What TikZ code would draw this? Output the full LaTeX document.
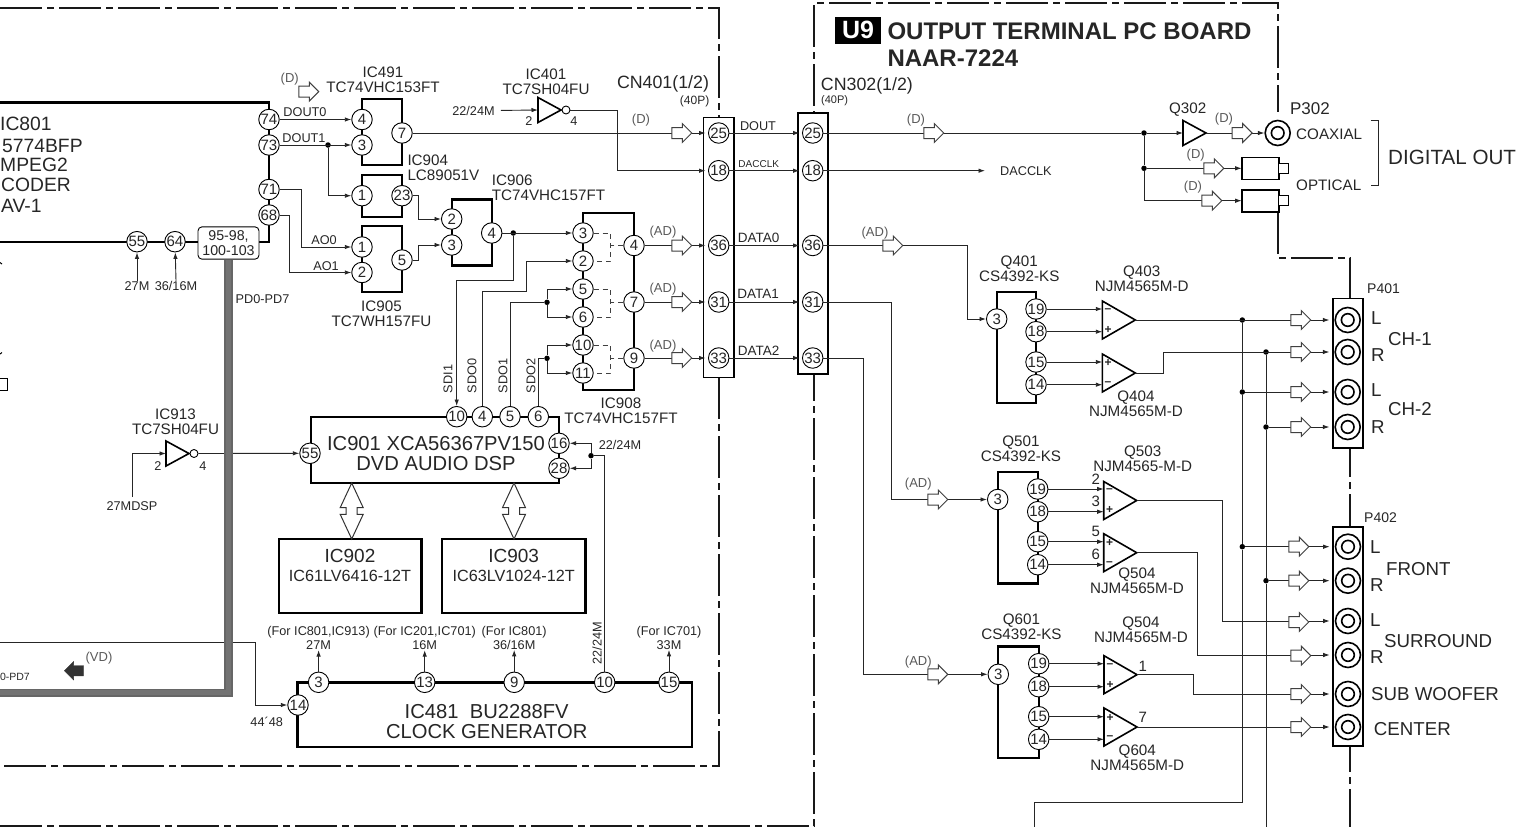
\documentclass[tikz,border=0pt]{standalone}
\usepackage{fontspec}
\setmainfont{Liberation Sans}
\usetikzlibrary{arrows.meta,shapes.arrows,shapes.geometric}

\begin{document}
\begin{tikzpicture}[x=1pt,y=1pt]
\tikzstyle{every node}+=[inner sep=0pt,text=black!85]
\tikzstyle{lbl}=[font=\fontsize{15.2}{15}\selectfont,align=center]
\tikzstyle{lblp}=[font=\fontsize{14}{15}\selectfont,anchor=west]
\tikzstyle{lbll}=[lbl,anchor=west,align=left]
\tikzstyle{lbls}=[font=\fontsize{12.7}{14}\selectfont,align=center]
\tikzstyle{lblb}=[font=\fontsize{18.7}{20}\selectfont,align=center]
\tikzstyle{lblk}=[font=\fontsize{19.3}{20}\selectfont,anchor=west]
\tikzstyle{lblc}=[font=\fontsize{20.2}{20}\selectfont,align=center]
\tikzstyle{lblm}=[font=\fontsize{16.2}{17}\selectfont]
\tikzstyle{lblg}=[font=\fontsize{13}{14}\selectfont,text=black!65]
\tikzstyle{lbld}=[font=\fontsize{13.5}{14}\selectfont]
\tikzstyle{lbln}=[font=\fontsize{15}{16}\selectfont]
\tikzstyle{lblsg}=[font=\fontsize{12}{12}\selectfont\bfseries]
\tikzstyle{pinc}=[circle,draw,fill=white,line width=0.9pt,minimum size=20.5pt,font=\fontsize{15}{15}\selectfont]
\tikzstyle{ic}=[draw,line width=2.3pt,fill=white,outer sep=0pt]
\tikzstyle{cn}=[draw,line width=1.6pt,fill=white,outer sep=0pt]
\tikzstyle{amp}=[isosceles triangle,isosceles triangle stretches,draw,line width=1.6pt,fill=white,minimum width=38pt,minimum height=33pt,anchor=apex,outer sep=0pt]
\tikzstyle{buf}=[amp,minimum width=25pt,minimum height=23pt]
\tikzstyle{bub}=[circle,draw,fill=white,line width=0.9pt,minimum size=8pt]
\tikzstyle{dot}=[circle,fill=black,minimum size=5.5pt]
\tikzstyle{flow}=[single arrow,draw=black!75,fill=white,line width=1pt,inner sep=5pt,minimum height=20pt,single arrow head extend=4pt]
\tikzstyle{bothflow}=[double arrow,rotate=90,draw=black!80,fill=white,line width=1pt,inner sep=5pt,minimum height=56pt,double arrow head extend=6pt,double arrow tip angle=50]
\tikzstyle{jack}=[circle,draw,fill=white,line width=1.6pt,minimum size=25pt,path picture={\draw [line width=1.6pt] (path picture bounding box.center) circle (6.3pt);}]
\tikzstyle{wire}=[line width=0.9pt,black!85]
\tikzstyle{sig}=[wire,-{Latex[length=6.5pt,width=4.5pt]}]
\tikzstyle{sigc}=[sig,shorten >=2.5pt]
\tikzstyle{sigj}=[sig,shorten >=5pt]
\tikzstyle{swline}=[line width=0.8pt,black!75,dash pattern=on 5pt off 4pt]
\tikzstyle{frameline}=[line width=2.2pt,black!90,dash pattern=on 42pt off 5pt on 7pt off 5pt]
\clip (0,0) rectangle (1527,-827);
\draw [frameline] (0,-8) -- (719,-8) -- (719,-117);
\draw [frameline] (719,-377) -- (719,-765.7) -- (0,-765.7);
\draw [frameline] (0,-825.7) -- (814,-825.7) -- (814,-3) -- (1278,-3) -- (1278,-112);
\draw [frameline] (1278,-212) -- (1278,-258) -- (1350,-258) -- (1350,-827);
\draw [line width=2.3pt] (0,-102.5) -- (269,-102.5) -- (269,-241.7) -- (0,-241.7);
\draw [line width=1pt] (0,-378.3) -- (7.3,-378.3) -- (7.3,-390.3) -- (0,-390.3);
\draw [line width=1pt] (0,-262.5) -- (2,-264);
\draw [line width=1pt] (0,-354) -- (2,-352.5);
\node (lb801a) [lblk] at (0,-124) {IC801};
\node (lb801b) [lblk] at (2,-145.7) {5774BFP};
\node (lb801c) [lblk] at (0,-165) {MPEG2};
\node (lb801d) [lblk] at (1,-185) {CODER};
\node (lb801e) [lblk] at (1,-206) {AV-1};
\node (ic491) [ic,minimum width=40pt,minimum height=66pt] at (382,-132) {};
\node (ic904) [ic,minimum width=40pt,minimum height=42pt] at (382,-195.7) {};
\node (ic905) [ic,minimum width=40pt,minimum height=66pt] at (382,-259) {};
\node (ic906) [ic,minimum width=40pt,minimum height=66pt] at (471.7,-232.5) {};
\node (ic908) [ic,minimum width=51pt,minimum height=177pt] at (608.7,-301.7) {};
\node (ic901) [ic,minimum width=248pt,minimum height=66.5pt] at (435,-450) {};
\node (ic902) [ic,minimum width=142.5pt,minimum height=73.5pt] at (350.2,-576) {};
\node (ic903) [ic,minimum width=143.5pt,minimum height=73.5pt] at (513.7,-576) {};
\node (ic481) [ic,minimum width=394.5pt,minimum height=64.7pt] at (494.7,-714.7) {};
\node (cn401) [cn,minimum width=30.4pt,minimum height=260pt] at (718.5,-247.3) {};
\node (cn302) [cn,minimum width=30pt,minimum height=261pt] at (812.7,-243.5) {};
\node (q401) [ic,minimum width=39.3pt,minimum height=111.3pt] at (1016.3,-347.3) {};
\node (q501) [ic,minimum width=40pt,minimum height=111.3pt] at (1017.7,-527.7) {};
\node (q601) [ic,minimum width=40.4pt,minimum height=111.7pt] at (1018.5,-702.2) {};
\node (p401) [cn,minimum width=30pt,minimum height=149.3pt] at (1348,-373.3) {};
\node (p402) [cn,minimum width=30pt,minimum height=219pt] at (1348,-636.5) {};
\node (p74) [pinc] at (269,-119.5) {74};
\node (p73) [pinc] at (269,-145) {73};
\node (p71) [pinc] at (269,-189.5) {71};
\node (p68) [pinc] at (269,-215) {68};
\node (p55) [pinc] at (137,-241.7) {55};
\node (p64) [pinc] at (175,-241.7) {64};
\node (pd) [draw,fill=white,line width=0.9pt,rounded corners=4pt,minimum width=61pt,minimum height=32.3pt,font=\fontsize{14.2}{15.5}\selectfont,align=center] at (228.5,-243) {95-98,\\100-103};
\node (p491a) [pinc] at (362,-119.5) {4};
\node (p491b) [pinc] at (362,-145) {3};
\node (p491c) [pinc] at (402,-133) {7};
\node (p904a) [pinc] at (362,-195.7) {1};
\node (p904b) [pinc] at (402,-195.7) {23};
\node (p905a) [pinc] at (362,-247) {1};
\node (p905b) [pinc] at (362,-272.5) {2};
\node (p905c) [pinc] at (402,-260) {5};
\node (p906a) [pinc] at (451.7,-219) {2};
\node (p906b) [pinc] at (451.7,-245) {3};
\node (p906c) [pinc] at (491.7,-233) {4};
\node (p908a) [pinc] at (583,-233) {3};
\node (p908b) [pinc] at (583,-261) {2};
\node (p908c) [pinc] at (583,-289) {5};
\node (p908d) [pinc] at (583,-317) {6};
\node (p908e) [pinc] at (583,-345) {10};
\node (p908f) [pinc] at (583,-373) {11};
\node (p908g) [pinc] at (634,-245.5) {4};
\node (p908h) [pinc] at (634,-302) {7};
\node (p908i) [pinc] at (634,-358) {9};
\node (p901a) [pinc] at (456.7,-416.7) {10};
\node (p901b) [pinc] at (482.3,-416.7) {4};
\node (p901c) [pinc] at (510,-416.7) {5};
\node (p901d) [pinc] at (538.3,-416.7) {6};
\node (p901e) [pinc] at (310,-453.3) {55};
\node (p901f) [pinc] at (559,-443.3) {16};
\node (p901g) [pinc] at (559,-468.3) {28};
\node (p481a) [pinc] at (298,-705) {14};
\node (p481b) [pinc] at (318.6,-682.3) {3};
\node (p481c) [pinc] at (424.7,-682.3) {13};
\node (p481d) [pinc] at (514.2,-682.3) {9};
\node (p481e) [pinc] at (604.7,-682.3) {10};
\node (p481f) [pinc] at (669,-682.3) {15};
\node (cn401a) [pinc] at (718.7,-133) {25};
\node (cn401b) [pinc] at (718.7,-170.7) {18};
\node (cn401c) [pinc] at (718.7,-245.5) {36};
\node (cn401d) [pinc] at (718.7,-302) {31};
\node (cn401e) [pinc] at (718.7,-358) {33};
\node (cn302a) [pinc] at (812.7,-133) {25};
\node (cn302b) [pinc] at (812.7,-170.7) {18};
\node (cn302c) [pinc] at (812.7,-245.5) {36};
\node (cn302d) [pinc] at (812.7,-302) {31};
\node (cn302e) [pinc] at (812.7,-358) {33};
\node (p401a) [pinc] at (996.7,-319) {3};
\node (p401b) [pinc] at (1036,-309) {19};
\node (p401c) [pinc] at (1036,-331.7) {18};
\node (p401d) [pinc] at (1036,-362) {15};
\node (p401e) [pinc] at (1036,-384.7) {14};
\node (p501a) [pinc] at (997.7,-499.5) {3};
\node (p501b) [pinc] at (1037.7,-489) {19};
\node (p501c) [pinc] at (1037.7,-511.7) {18};
\node (p501d) [pinc] at (1037.7,-541.7) {15};
\node (p501e) [pinc] at (1037.7,-564.7) {14};
\node (p601a) [pinc] at (998.3,-674.3) {3};
\node (p601b) [pinc] at (1038.7,-663.7) {19};
\node (p601c) [pinc] at (1038.7,-686.7) {18};
\node (p601d) [pinc] at (1038.7,-716.7) {15};
\node (p601e) [pinc] at (1038.7,-739.3) {14};
\node (amp403) [amp] at (1135.3,-320) {};
\node (amp404) [amp] at (1135.3,-373) {};
\node (amp503) [amp] at (1136.7,-500.5) {};
\node (amp504) [amp] at (1136.7,-552.7) {};
\node (amp505) [amp] at (1137,-674.7) {};
\node (amp604) [amp] at (1137,-727) {};
\node (buf302) [buf] at (1206,-133) {};
\node (inv401) [buf] at (561,-110) {};
\node (bub401) [bub] at (566,-110) {};
\node (inv913) [buf] at (189,-453.5) {};
\node (bub913) [bub] at (194,-453.5) {};
\node (jp302) [jack] at (1277.7,-133) {};
\node (opt1) [cn,minimum width=37pt,minimum height=22pt] at (1260.2,-168.3) {};
\node (nub1) [cn,line width=1.2pt,minimum width=10pt,minimum height=10pt,anchor=west] at (opt1.east) {};
\node (opt2) [cn,minimum width=37pt,minimum height=22pt] at (1260.2,-200.7) {};
\node (nub2) [cn,line width=1.2pt,minimum width=10pt,minimum height=10pt,anchor=west] at (opt2.east) {};
\node (j1) [jack] at (1347.7,-320) {};
\node (j2) [jack] at (1347.7,-352) {};
\node (j3) [jack] at (1347.7,-392) {};
\node (j4) [jack] at (1347.7,-427) {};
\node (k1) [jack] at (1348,-546.7) {};
\node (k2) [jack] at (1348,-580.7) {};
\node (k3) [jack] at (1348,-621) {};
\node (k4) [jack] at (1348,-655) {};
\node (k5) [jack] at (1348,-694) {};
\node (k6) [jack] at (1348,-727) {};
\node (d73) [dot] at (328,-145) {};
\node (d906) [dot] at (513.3,-233) {};
\node (d908a) [dot] at (547,-302.3) {};
\node (d908b) [dot] at (547,-358.3) {};
\node (d901) [dot] at (591,-455.7) {};
\node (dq302) [dot] at (1144,-133) {};
\node (dopt) [dot] at (1144,-168.3) {};
\node (dj1) [dot] at (1242.3,-320) {};
\node (dj2) [dot] at (1266,-352) {};
\node (dj3) [dot] at (1242.3,-392) {};
\node (dj4) [dot] at (1266,-427) {};
\node (dk1) [dot] at (1242.3,-546.7) {};
\node (dk2) [dot] at (1266,-580.7) {};
\node (lb491) [lbl] at (383,-79.5) {IC491\\TC74VHC153FT};
\node (lb401) [lbl] at (546,-81.5) {IC401\\TC7SH04FU};
\node (lb904) [lbll] at (407.3,-167.3) {IC904\\LC89051V};
\node (lb905) [lbl] at (381.5,-313.5) {IC905\\TC7WH157FU};
\node (lb906) [lbll] at (491.7,-188.2) {IC906\\TC74VHC157FT};
\node (lb908) [lbl] at (621,-411.2) {IC908\\TC74VHC157FT};
\node (lb913) [lbl] at (175.5,-421.5) {IC913\\TC7SH04FU};
\node (lb2224a) [lbls] at (473.5,-110.5) {22/24M};
\node (lb2224b) [lbls] at (620,-445) {22/24M};
\node (lb2224c) [lbls,rotate=90] at (597,-643) {22/24M};
\node (lb27) [lbls] at (137,-285.7) {27M};
\node (lb36) [lbls] at (176,-285.7) {36/16M};
\node (lbdsp) [lbls] at (132,-505.7) {27MDSP};
\node (lbpd) [lbls] at (262.5,-299) {PD0-PD7};
\node (lbpd2) [font=\fontsize{10.5}{12}\selectfont,anchor=east] at (30,-677) {0-PD7};
\node (lbvd) [lblg] at (99,-658) {(VD)};
\node (lb4448) [lbls] at (266.7,-721.7) {44´48};
\node (lbfor1) [lbls] at (318.6,-638.3) {(For IC801,IC913)\\27M};
\node (lbfor2) [lbls] at (424.7,-638.3) {(For IC201,IC701)\\16M};
\node (lbfor3) [lbls] at (514.2,-638) {(For IC801)\\36/16M};
\node (lbfor4) [lbls] at (669,-638) {(For IC701)\\33M};
\node (lbin2a) [lbls] at (529,-121) {2};
\node (lbin4a) [lbls] at (574,-121) {4};
\node (lbin2b) [lbls] at (158,-466) {2};
\node (lbin4b) [lbls] at (203,-466) {4};
\node (lbic901) [lblc] at (436,-454) {IC901 XCA56367PV150\\DVD AUDIO DSP};
\node (lbic902) [font=\fontsize{19}{20}\selectfont] at (350,-556) {IC902};
\node (lbic902a) [lblm] at (350,-576) {IC61LV6416-12T};
\node (lbic903) [font=\fontsize{19}{20}\selectfont] at (513.7,-556) {IC903};
\node (lbic903a) [lblm] at (513.7,-576) {IC63LV1024-12T};
\node (lbic481) [lblc] at (486.7,-722) {IC481\ \ BU2288FV\\CLOCK GENERATOR};
\node (lbdout0) [lbls] at (305,-112.5) {DOUT0};
\node (lbdout1) [lbls] at (304,-138) {DOUT1};
\node (lbao0) [lbls] at (324,-240) {AO0};
\node (lbao1) [lbls] at (326,-266) {AO1};
\node (lbsdi1) [lbls,rotate=90] at (448,-379) {SDI1};
\node (lbsdo0) [lbls,rotate=90] at (472,-376) {SDO0};
\node (lbsdo1) [lbls,rotate=90] at (503,-376) {SDO1};
\node (lbsdo2) [lbls,rotate=90] at (531,-376) {SDO2};
\node (lbcn401) [font=\fontsize{17.8}{19}\selectfont] at (663,-84) {CN401(1/2)};
\node (lbcn401p) [font=\fontsize{12}{14}\selectfont] at (694.6,-101) {(40P)};
\node (lbcn302) [font=\fontsize{17.8}{19}\selectfont,anchor=west] at (820.7,-85.7) {CN302(1/2)};
\node (lbcn302p) [font=\fontsize{11}{12}\selectfont,anchor=west] at (821,-100.7) {(40P)};
\node (lbdout) [lbls] at (758,-125.7) {DOUT};
\node (lbclk) [font=\fontsize{10}{12}\selectfont] at (758.7,-163.7) {DACCLK};
\node (lbdata0) [lbld] at (758.7,-237.7) {DATA0};
\node (lbdata1) [lbld] at (758,-293.7) {DATA1};
\node (lbdata2) [lbld] at (758.7,-350.3) {DATA2};
\node (lbu9) [fill=black,text=white,minimum width=46pt,minimum height=27pt,font=\fontsize{25}{26}\selectfont\bfseries] at (858,-30.2) {U9};
\node (lbtitle) [font=\fontsize{24}{27}\selectfont\bfseries,anchor=north west,align=left] at (887.3,-22.5) {OUTPUT TERMINAL PC BOARD\\NAAR-7224};
\node (lbq302) [lbl] at (1187.7,-110) {Q302};
\node (lbp302) [font=\fontsize{17}{18}\selectfont] at (1310,-109) {P302};
\node (lbcoax) [lbl,anchor=west] at (1296,-134) {COAXIAL};
\node (lbopt) [lbl,anchor=west] at (1296,-185) {OPTICAL};
\node (lbdigital) [font=\fontsize{20.6}{22}\selectfont,anchor=west] at (1388,-157.3) {DIGITAL OUT};
\node (lbdacclk) [lbls,anchor=west] at (1000,-171) {DACCLK};
\node (lbq401) [lbl] at (1019.3,-269.2) {Q401\\CS4392-KS};
\node (lbq403) [lbl] at (1141.7,-278.8) {Q403\\NJM4565M-D};
\node (lbq404) [lbl] at (1136,-403.7) {Q404\\NJM4565M-D};
\node (lbq501) [lbl] at (1021,-449.2) {Q501\\CS4392-KS};
\node (lbq503) [lbl] at (1142.7,-458.7) {Q503\\NJM4565-M-D};
\node (lbq504) [lbl] at (1137,-581) {Q504\\NJM4565M-D};
\node (lbq601) [lbl] at (1021.5,-626.7) {Q601\\CS4392-KS};
\node (lbq505) [lbl] at (1141,-630.2) {Q504\\NJM4565M-D};
\node (lbq604) [lbl] at (1137.3,-758.2) {Q604\\NJM4565M-D};
\node (lbn2) [lbln] at (1095.7,-479) {2};
\node (lbn3) [lbln] at (1095.7,-501.7) {3};
\node (lbn5) [lbln] at (1095.7,-531.7) {5};
\node (lbn6) [lbln] at (1095.7,-554.7) {6};
\node (lbn1) [lbln] at (1142.7,-666) {1};
\node (lbn7) [lbln] at (1142.7,-717) {7};
\node (s403a) [lblsg] at (1108,-310.5) {–};
\node (s403b) [lblsg] at (1108,-330) {+};
\node (s404a) [lblsg] at (1108,-363) {+};
\node (s404b) [lblsg] at (1108,-384) {–};
\node (s503a) [lblsg] at (1109.5,-491) {–};
\node (s503b) [lblsg] at (1109.5,-510) {+};
\node (s504a) [lblsg] at (1109.5,-543) {+};
\node (s504b) [lblsg] at (1109.5,-563.5) {–};
\node (s505a) [lblsg] at (1110,-665.5) {–};
\node (s505b) [lblsg] at (1110,-685) {+};
\node (s604a) [lblsg] at (1110,-717.5) {+};
\node (s604b) [lblsg] at (1110,-738) {–};
\node (lbp401) [lblp] at (1367,-289) {P401};
\node (lbp402) [lblp] at (1364,-517.7) {P402};
\node (lbl1) [lblb,anchor=west] at (1371,-318) {L};
\node (lbr1) [lblb,anchor=west] at (1371,-355) {R};
\node (lbl2) [lblb,anchor=west] at (1371,-390) {L};
\node (lbr2) [lblb,anchor=west] at (1371,-427) {R};
\node (lbch1) [lblb,anchor=west] at (1388,-339) {CH-1};
\node (lbch2) [lblb,anchor=west] at (1388,-409) {CH-2};
\node (lbl3) [lblb,anchor=west] at (1370,-547) {L};
\node (lbr3) [lblb,anchor=west] at (1370,-585) {R};
\node (lbl4) [lblb,anchor=west] at (1370,-620) {L};
\node (lbr4) [lblb,anchor=west] at (1370,-657) {R};
\node (lbfront) [lblb,anchor=west] at (1386,-569) {FRONT};
\node (lbsurr) [lblb,anchor=west] at (1384,-640.7) {SURROUND};
\node (lbsub) [lblb,anchor=west] at (1371,-694) {SUB WOOFER};
\node (lbcenter) [lblb,anchor=west] at (1373.7,-729) {CENTER};
\coordinate (dacend) at (985,-170.7);
\coordinate (wirein) at (0,-642.3);
\draw [sig] (p74) -- (p491a);
\draw [sig] (p73) -- (p491b);
\draw [sig] (d73) |- (p904a);
\draw [sig] (p71.east) -- ++(22,0) |- (p905a);
\draw [sig] (p68.east) -- ++(10,0) |- (p905b);
\draw [sig] (p904b.east) -- ++(6,0) |- (p906a);
\draw [sig] (p905c.east) -- ++(6,0) |- (p906b);
\draw [sig] (p906c) -- (p908a);
\draw [sig] (d906) -- ++(0,-47.7) -| (p901a);
\draw [sig] (p901b) |- (526.7,-291) |- (p908b);
\draw [wire] (p901c) |- (d908a);
\draw [sig] (d908a) |- (p908c);
\draw [sig] (d908a) |- (p908d);
\draw [wire] (p901d) |- (d908b);
\draw [sig] (d908b) |- (p908e);
\draw [sig] (d908b) |- (p908f);
\draw [swline] (p908a.east) -| (610.7,-261) -- (p908b.east);
\draw [swline] (p908c.east) -| (610.7,-317) -- (p908d.east);
\draw [swline] (p908e.east) -| (610.7,-373) -- (p908f.east);
\draw [swline] (p908g.west) -- ++(-13,0);
\draw [swline] (p908h.west) -- ++(-13,0);
\draw [swline] (p908i.west) -- ++(-13,0);
\draw [sigc] (p491c) -- (cn401a);
\draw [sig,shorten <=6pt] (lb2224a.east) -- (inv401.west);
\draw [sigc] (bub401) -- (617.7,-110) |- (cn401b);
\draw [sigc] (p908g) -- (cn401c);
\draw [sigc] (p908h) -- (cn401d);
\draw [sigc] (p908i) -- (cn401e);
\draw [sigc] (cn401a) -- (cn302a);
\draw [sigc] (cn401b) -- (cn302b);
\draw [sigc] (cn401c) -- (cn302c);
\draw [sigc] (cn401d) -- (cn302d);
\draw [sigc] (cn401e) -- (cn302e);
\draw [sig] (lb27.north) -- (p55);
\draw [sig] (lb36.north) -- (p64);
\draw [sig,shorten <=4pt] (lbdsp.north) |- (inv913.west);
\draw [sig] (bub913) -- (p901e);
\draw [sig] (wirein) -- (255.7,-642.3) |- (p481a);
\draw [sig] (p481b) -- (lbfor1.south);
\draw [sig] (p481c) -- (lbfor2.south);
\draw [sig] (p481d) -- (lbfor3.south);
\draw [sig] (p481f) -- (lbfor4.south);
\draw [wire] (p481e) |- (d901);
\draw [sig] (d901) |- (p901f);
\draw [sig] (d901) |- (p901g);
\draw [wire] (cn302a) -- (dq302);
\draw [sig] (dq302) -- (buf302.west);
\draw [sig] (buf302.apex) -- (jp302);
\draw [wire] (dq302) -- (dopt);
\draw [sig] (dopt) -- (opt1);
\draw [sig] (dopt) |- (opt2);
\draw [sig] (cn302b) -- (dacend);
\draw [sig] (cn302c) -| (967.3,-319) -- (p401a);
\draw [sig] (cn302d) -| (891.7,-499.5) -- (p501a);
\draw [sig] (cn302e) -| (863.3,-674.3) -- (p601a);
\draw [sig] (p401b) -- (p401b -| amp403.west);
\draw [sig] (p401c) -- (p401c -| amp403.west);
\draw [sig] (p401d) -- (p401d -| amp404.west);
\draw [sig] (p401e) -- (p401e -| amp404.west);
\draw [sig] (p501b) -- (p501b -| amp503.west);
\draw [sig] (p501c) -- (p501c -| amp503.west);
\draw [sig] (p501d) -- (p501d -| amp504.west);
\draw [sig] (p501e) -- (p501e -| amp504.west);
\draw [sig] (p601b) -- (p601b -| amp505.west);
\draw [sig] (p601c) -- (p601c -| amp505.west);
\draw [sig] (p601d) -- (p601d -| amp604.west);
\draw [sig] (p601e) -- (p601e -| amp604.west);
\draw [sigj] (amp403.apex) -- (j1);
\draw [sigj] (amp404.apex) -- (1163,-373) |- (j2);
\draw [wire] (dj1) -- (dj3) -- (dk1) -- (1242.3,-802.7) -| (1034,-827);
\draw [wire] (dj2) -- (dj4) -- (dk2) -- (1266,-827);
\draw [sigj] (dj3) -- (j3);
\draw [sigj] (dj4) -- (j4);
\draw [sigj] (dk1) -- (k1);
\draw [sigj] (dk2) -- (k2);
\draw [sigj] (amp503.apex) -- (1222.3,-500.5) |- (k3);
\draw [sigj] (amp504.apex) -- (1197.7,-552.7) |- (k4);
\draw [sigj] (amp505.apex) -- (1193.3,-674.7) |- (k5);
\draw [sigj] (amp604.apex) -- (k6);
\draw [line width=0.9pt,black!85] (1370.7,-120) -- (1378.7,-120) -- (1378.7,-185.3) -- (1370.7,-185.3);
\draw [line width=1.4pt,black!60,double=black!55,double distance=5.5pt] (pd.south) -- (228.5,-692.7) -- (-5,-692.7);
\node (fd1) [flow] at (306,-91.7) {};
\node (fd2) [flow] at (679,-133) {};
\node (fad1) [flow] at (679,-245.5) {};
\node (fad2) [flow] at (679,-302) {};
\node (fad3) [flow] at (679,-358) {};
\node (fd3) [flow] at (931,-133) {};
\node (fd4) [flow] at (1239.3,-133) {};
\node (fd5) [flow] at (1211,-168.3) {};
\node (fd6) [flow] at (1209,-200.7) {};
\node (fad4) [flow] at (890,-245.5) {};
\node (fad5) [flow] at (935,-499.5) {};
\node (fad6) [flow] at (935,-674.3) {};
\node (fj1) [flow] at (1298,-320) {};
\node (fj2) [flow] at (1298,-352) {};
\node (fj3) [flow] at (1298,-392) {};
\node (fj4) [flow] at (1298,-427) {};
\node (fk1) [flow] at (1296,-546.7) {};
\node (fk2) [flow] at (1296,-580.7) {};
\node (fk3) [flow] at (1296,-622) {};
\node (fk4) [flow] at (1298,-655.7) {};
\node (fk5) [flow] at (1298,-694) {};
\node (fk6) [flow] at (1298,-727) {};
\node (fvd) [single arrow,draw=black!80,fill=black!80,inner sep=5pt,minimum height=19pt,single arrow head extend=4pt,shape border rotate=180] at (76.5,-670.7) {};
\node (fb1) [bothflow] at (351.7,-511) {};
\node (fb2) [bothflow] at (514,-511) {};
\node (lgd1) [lblg] at (289.7,-79) {(D)};
\node (lgd2) [lblg] at (641,-120) {(D)};
\node (lgd3) [lblg] at (916,-120) {(D)};
\node (lgd4) [lblg] at (1224,-119.3) {(D)};
\node (lgd5) [lblg] at (1195.7,-155) {(D)};
\node (lgd6) [lblg] at (1193,-187) {(D)};
\node (lgad1) [lblg] at (663,-231.7) {(AD)};
\node (lgad2) [lblg] at (663,-289) {(AD)};
\node (lgad3) [lblg] at (663,-345.7) {(AD)};
\node (lgad4) [lblg] at (875,-232.7) {(AD)};
\node (lgad5) [lblg] at (918.3,-484.3) {(AD)};
\node (lgad6) [lblg] at (918.3,-661.7) {(AD)};
\end{tikzpicture}
\end{document}
